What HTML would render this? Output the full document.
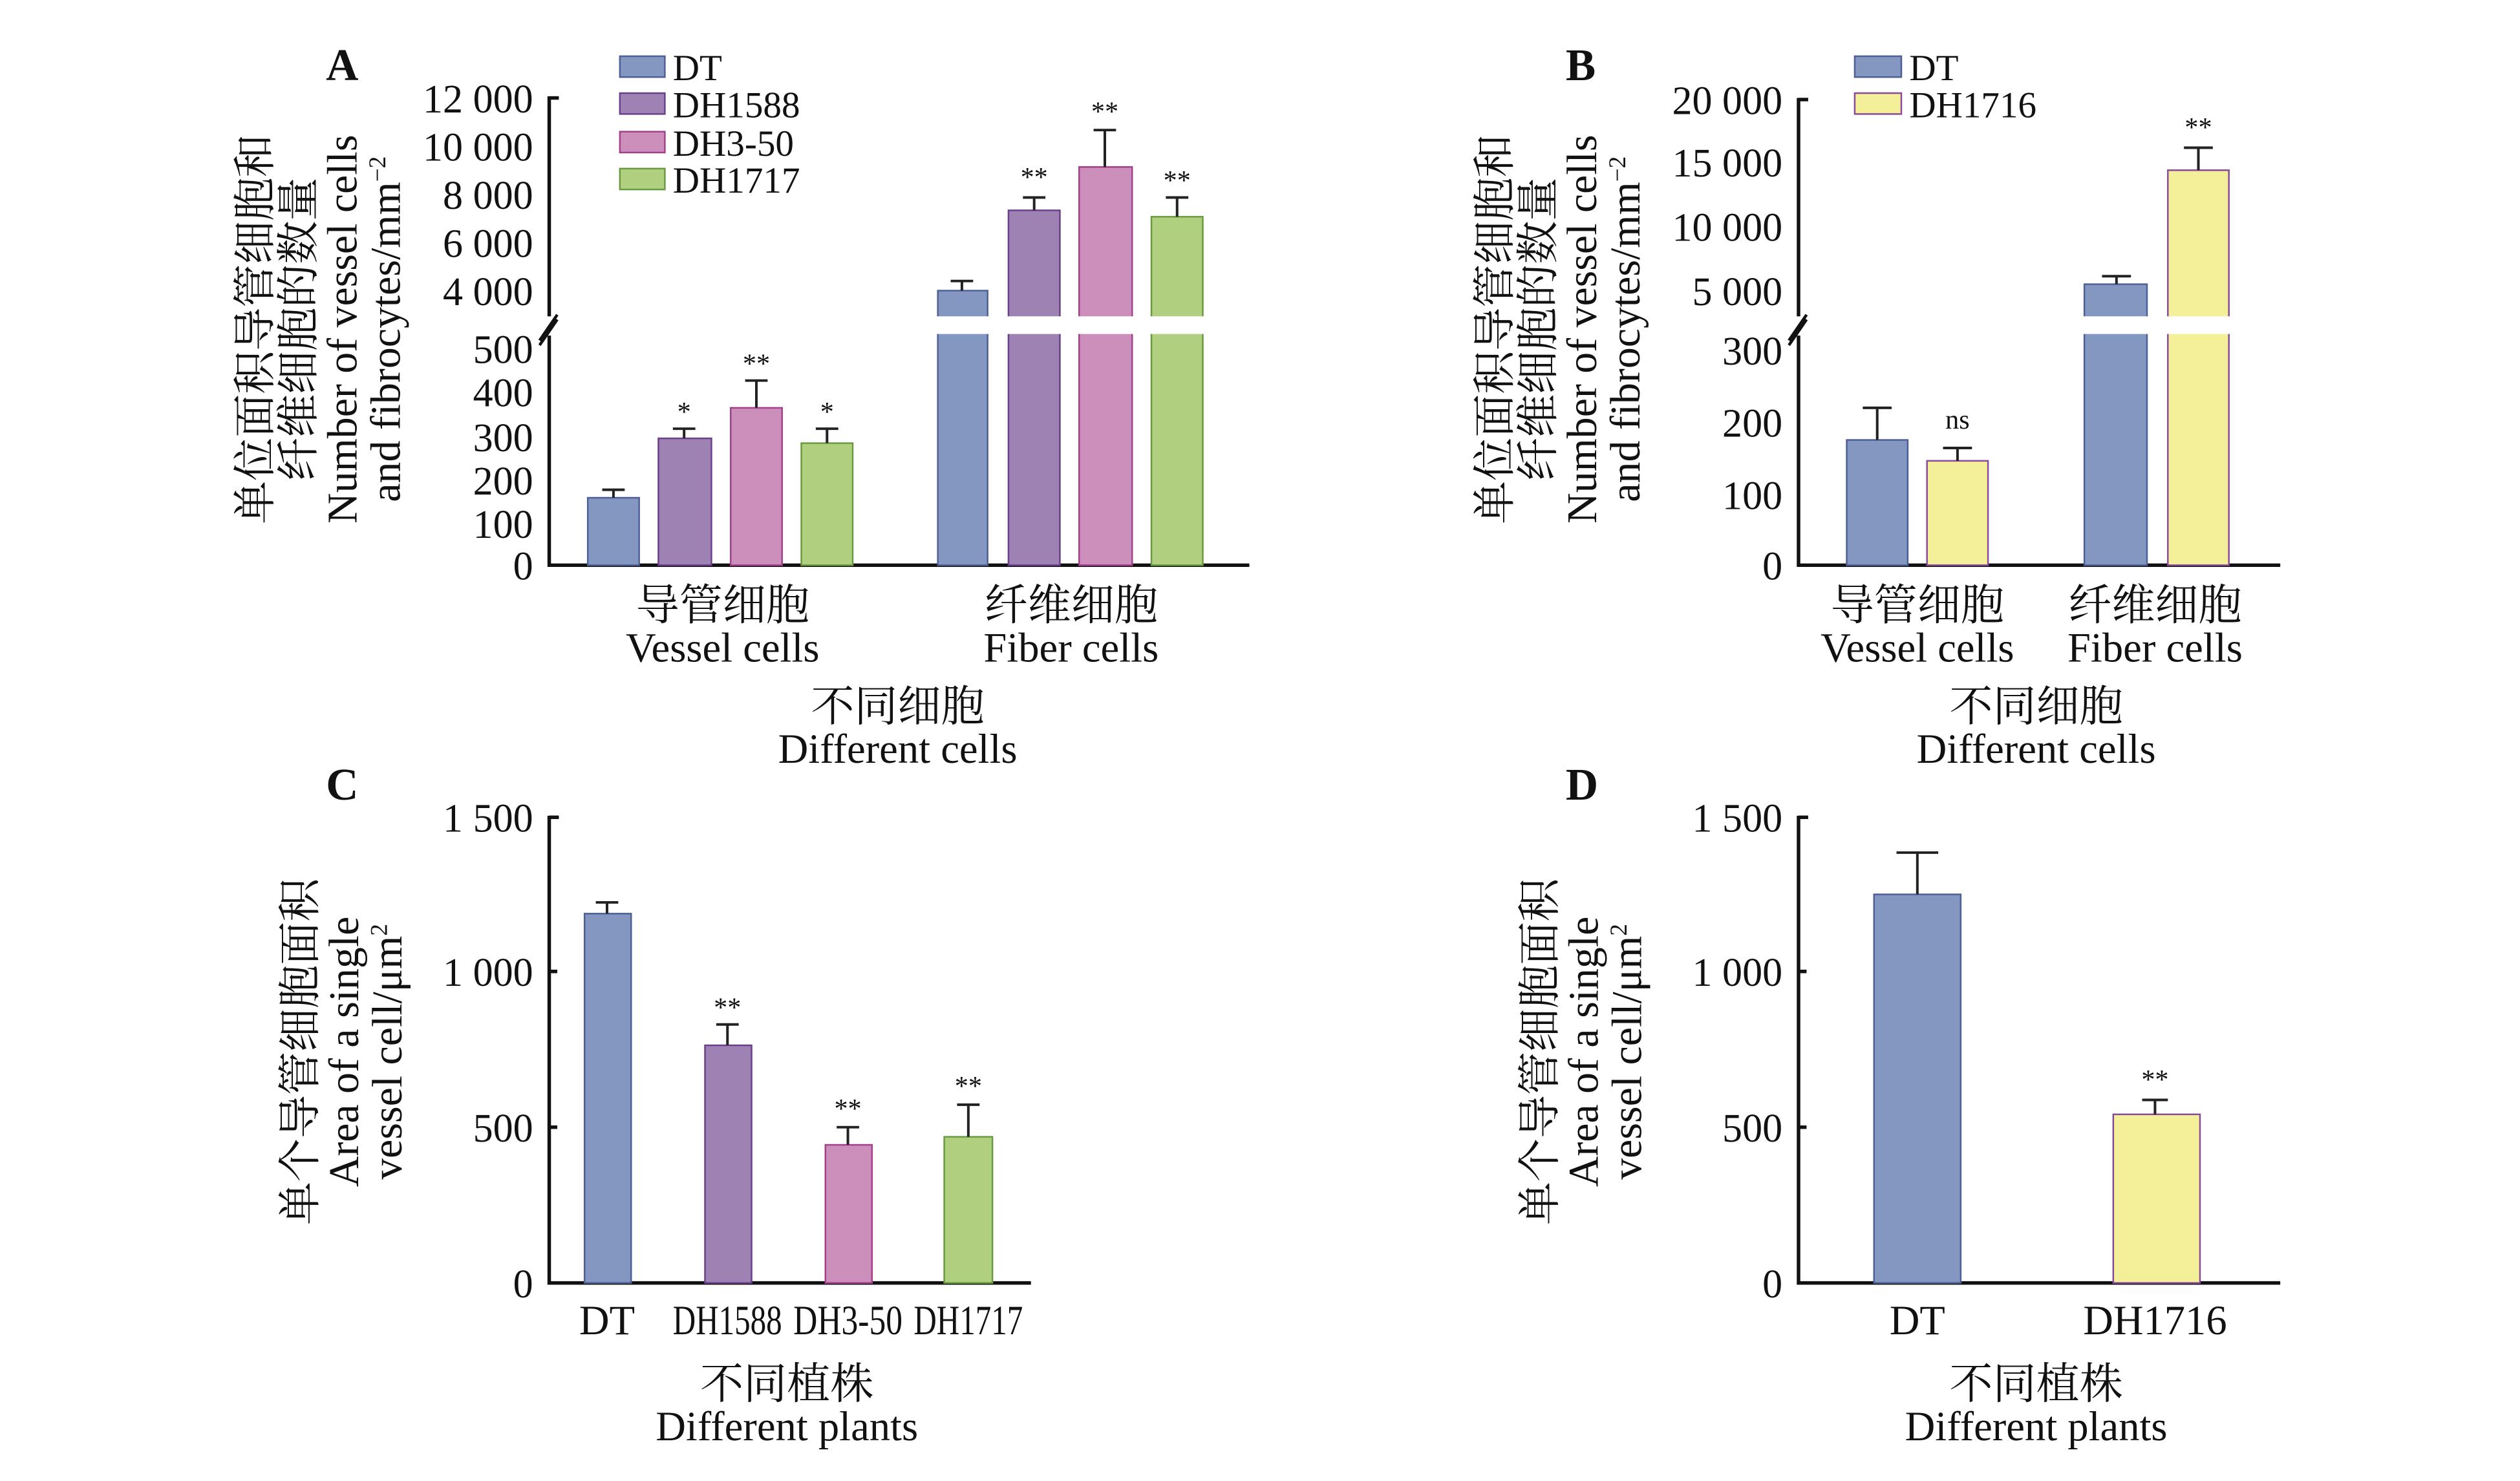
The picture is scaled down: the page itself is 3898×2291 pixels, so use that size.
<!DOCTYPE html>
<html><head><meta charset="utf-8"><style>html,body{margin:0;padding:0;background:#fff}svg{display:block}
text{font-family:"Liberation Serif","Noto Serif CJK SC","Noto Sans CJK SC",serif;fill:#111}
.t{font-size:26px}.k{font-size:25px}.s{font-size:17px}.cn{font-size:27px}.y{font-size:26.5px}
</style></head><body>
<svg width="3898" height="2291" viewBox="0 0 1552 912.2" xmlns="http://www.w3.org/2000/svg">
<rect width="1552" height="912.2" fill="#fff"/>
<g transform="scale(0.989)">
<!-- ===== Panel A ===== -->
<text x="203" y="50" style="font-size:28px;font-weight:bold">A</text>
<g transform="translate(0,205) rotate(-90)">
<text x="0" y="168" class="cn" text-anchor="middle">单位面积导管细胞和</text>
<text x="0" y="195" class="cn" text-anchor="middle">纤维细胞的数量</text>
<text x="0" y="222" class="y" text-anchor="middle">Number of vessel cells</text>
<text x="0" y="249" class="y" text-anchor="middle">and fibrocytes/mm<tspan dy="-9" style="font-size:15px">−2</tspan></text>
</g>
<g class="k" text-anchor="end">
<text x="332" y="70">12 000</text><text x="332" y="100">10 000</text><text x="332" y="130">8 000</text><text x="332" y="160">6 000</text><text x="332" y="190">4 000</text>
<text x="332" y="226">500</text><text x="332" y="253">400</text><text x="332" y="281">300</text><text x="332" y="308">200</text><text x="332" y="335">100</text><text x="332" y="361">0</text>
</g>
<g stroke="#111" stroke-width="2.2">
<line x1="342" y1="60" x2="342" y2="197"/><line x1="342" y1="209" x2="342" y2="353"/>
<line x1="341" y1="352" x2="778" y2="352"/>
<line x1="342" y1="61" x2="348" y2="61"/>
<line x1="336" y1="212" x2="347" y2="196" stroke-width="1.8"/><line x1="336" y1="215" x2="347" y2="199" stroke-width="1.8"/>
</g>
<rect x="366" y="310" width="32" height="42" fill="#8497c0" stroke="#4e5f95"/>
<rect x="410" y="273" width="33" height="79" fill="#9e82b4" stroke="#6a3f8c"/>
<rect x="455" y="254" width="32" height="98" fill="#cc8fbb" stroke="#a3408c"/>
<rect x="499" y="276" width="32" height="76" fill="#b0d080" stroke="#6a9a40"/>
<rect x="584" y="181" width="31" height="171" fill="#8497c0" stroke="#4e5f95"/>
<rect x="628" y="131" width="32" height="221" fill="#9e82b4" stroke="#6a3f8c"/>
<rect x="672" y="104" width="33" height="248" fill="#cc8fbb" stroke="#a3408c"/>
<rect x="717" y="135" width="32" height="217" fill="#b0d080" stroke="#6a9a40"/>
<rect x="575" y="197" width="190" height="11" fill="#fff"/>
<g stroke="#222" stroke-width="1.6" fill="none">
<path d="M382 310V305M375 305H389"/><path d="M426 273V267M419 267H433"/><path d="M471 254V237M464 237H478"/><path d="M515 276V267M508 267H522"/>
<path d="M599 181V175M592 175H606"/><path d="M644 131V123M637 123H651"/><path d="M688 104V81M681 81H695"/><path d="M733 135V123M726 123H740"/>
</g>
<g class="s" text-anchor="middle">
<text x="426" y="262">*</text><text x="471" y="232">**</text><text x="515" y="262">*</text>
<text x="644" y="116">**</text><text x="688" y="75">**</text><text x="733" y="118">**</text>
</g>
<rect x="386" y="35" width="28" height="13" fill="#8497c0" stroke="#4e5f95"/>
<rect x="386" y="58" width="28" height="13" fill="#9e82b4" stroke="#6a3f8c"/>
<rect x="386" y="82" width="28" height="13" fill="#cc8fbb" stroke="#a3408c"/>
<rect x="386" y="105" width="28" height="13" fill="#b0d080" stroke="#6a9a40"/>
<g style="font-size:23px"><text x="419" y="50">DT</text><text x="419" y="73">DH1588</text><text x="419" y="97">DH3-50</text><text x="419" y="120">DH1717</text></g>
<g text-anchor="middle">
<text x="450" y="386" class="cn">导管细胞</text><text x="450" y="412" class="t">Vessel cells</text>
<text x="667" y="386" class="cn">纤维细胞</text><text x="667" y="412" class="t">Fiber cells</text>
<text x="559" y="449" class="cn">不同细胞</text><text x="559" y="475" class="t">Different cells</text>
</g>
<!-- ===== Panel B ===== -->
<text x="975" y="50" style="font-size:28px;font-weight:bold">B</text>
<g transform="translate(0,205) rotate(-90)">
<text x="0" y="940" class="cn" text-anchor="middle">单位面积导管细胞和</text>
<text x="0" y="967" class="cn" text-anchor="middle">纤维细胞的数量</text>
<text x="0" y="994" class="y" text-anchor="middle">Number of vessel cells</text>
<text x="0" y="1021" class="y" text-anchor="middle">and fibrocytes/mm<tspan dy="-9" style="font-size:15px">−2</tspan></text>
</g>
<g class="k" text-anchor="end">
<text x="1110" y="71">20 000</text><text x="1110" y="110">15 000</text><text x="1110" y="150">10 000</text><text x="1110" y="190">5 000</text>
<text x="1110" y="227">300</text><text x="1110" y="272">200</text><text x="1110" y="317">100</text><text x="1110" y="361">0</text>
</g>
<g stroke="#111" stroke-width="2.2">
<line x1="1120" y1="61" x2="1120" y2="197"/><line x1="1120" y1="209" x2="1120" y2="353"/>
<line x1="1119" y1="352" x2="1420" y2="352"/>
<line x1="1120" y1="62" x2="1126" y2="62"/>
<line x1="1114" y1="212" x2="1125" y2="196" stroke-width="1.8"/><line x1="1114" y1="215" x2="1125" y2="199" stroke-width="1.8"/>
</g>
<rect x="1150" y="274" width="38" height="78" fill="#8497c0" stroke="#4e5f95"/>
<rect x="1200" y="287" width="38" height="65" fill="#f4f09a" stroke="#8a4a9a"/>
<rect x="1298" y="177" width="39" height="175" fill="#8497c0" stroke="#4e5f95"/>
<rect x="1350" y="106" width="38" height="246" fill="#f4f09a" stroke="#8a4a9a"/>
<rect x="1290" y="197" width="110" height="11" fill="#fff"/>
<g stroke="#222" stroke-width="1.6" fill="none">
<path d="M1169 274V254M1160 254H1178"/><path d="M1219 287V279M1210 279H1228"/>
<path d="M1318 177V172M1309 172H1327"/><path d="M1369 106V92M1360 92H1378"/>
</g>
<g class="s" text-anchor="middle"><text x="1219" y="267">ns</text><text x="1369" y="85">**</text></g>
<rect x="1155" y="35" width="29" height="13" fill="#8497c0" stroke="#4e5f95"/>
<rect x="1155" y="58" width="29" height="13" fill="#f4f09a" stroke="#8a4a9a"/>
<g style="font-size:23px"><text x="1189" y="50">DT</text><text x="1189" y="73">DH1716</text></g>
<g text-anchor="middle">
<text x="1194" y="386" class="cn">导管细胞</text><text x="1194" y="412" class="t">Vessel cells</text>
<text x="1342" y="386" class="cn">纤维细胞</text><text x="1342" y="412" class="t">Fiber cells</text>
<text x="1268" y="449" class="cn">不同细胞</text><text x="1268" y="475" class="t">Different cells</text>
</g>
<!-- ===== Panel C ===== -->
<text x="203" y="498" style="font-size:28px;font-weight:bold">C</text>
<g transform="translate(0,655) rotate(-90)">
<text x="0" y="196" class="cn" text-anchor="middle">单个导管细胞面积</text>
<text x="0" y="223" class="y" text-anchor="middle">Area of a single</text>
<text x="0" y="250" class="y" text-anchor="middle">vessel cell/μm<tspan dy="-9" style="font-size:15px">2</tspan></text>
</g>
<g class="k" text-anchor="end">
<text x="332" y="518">1 500</text><text x="332" y="614">1 000</text><text x="332" y="711">500</text><text x="332" y="808">0</text>
</g>
<g stroke="#111" stroke-width="2.2">
<line x1="342" y1="508" x2="342" y2="800"/><line x1="341" y1="799" x2="642" y2="799"/>
<line x1="342" y1="509" x2="348" y2="509"/><line x1="342" y1="605" x2="347" y2="605"/><line x1="342" y1="702" x2="347" y2="702"/>
</g>
<rect x="364" y="569" width="29" height="230" fill="#8497c0" stroke="#4e5f95"/>
<rect x="439" y="651" width="29" height="148" fill="#9e82b4" stroke="#6a3f8c"/>
<rect x="514" y="713" width="29" height="86" fill="#cc8fbb" stroke="#a3408c"/>
<rect x="588" y="708" width="30" height="91" fill="#b0d080" stroke="#6a9a40"/>
<g stroke="#222" stroke-width="1.6" fill="none">
<path d="M378 569V562M371 562H385"/><path d="M453 651V638M446 638H460"/><path d="M528 713V702M521 702H535"/><path d="M603 708V688M596 688H610"/>
</g>
<g class="s" text-anchor="middle"><text x="453" y="633">**</text><text x="528" y="696">**</text><text x="603" y="682">**</text></g>
<g class="t" text-anchor="middle">
<text x="378" y="831">DT</text><text x="453" y="831" textLength="68" lengthAdjust="spacingAndGlyphs">DH1588</text><text x="528" y="831" textLength="68" lengthAdjust="spacingAndGlyphs">DH3-50</text><text x="603" y="831" textLength="68" lengthAdjust="spacingAndGlyphs">DH1717</text>
</g>
<g text-anchor="middle"><text x="490" y="871" class="cn">不同植株</text><text x="490" y="897" class="t">Different plants</text></g>
<!-- ===== Panel D ===== -->
<text x="975" y="498" style="font-size:28px;font-weight:bold">D</text>
<g transform="translate(0,655) rotate(-90)">
<text x="0" y="968" class="cn" text-anchor="middle">单个导管细胞面积</text>
<text x="0" y="995" class="y" text-anchor="middle">Area of a single</text>
<text x="0" y="1022" class="y" text-anchor="middle">vessel cell/μm<tspan dy="-9" style="font-size:15px">2</tspan></text>
</g>
<g class="k" text-anchor="end">
<text x="1110" y="518">1 500</text><text x="1110" y="614">1 000</text><text x="1110" y="711">500</text><text x="1110" y="808">0</text>
</g>
<g stroke="#111" stroke-width="2.2">
<line x1="1120" y1="508" x2="1120" y2="800"/><line x1="1119" y1="799" x2="1420" y2="799"/>
<line x1="1120" y1="509" x2="1126" y2="509"/><line x1="1120" y1="605" x2="1125" y2="605"/><line x1="1120" y1="702" x2="1125" y2="702"/>
</g>
<rect x="1167" y="557" width="54" height="242" fill="#8497c0" stroke="#4e5f95"/>
<rect x="1316" y="694" width="54" height="105" fill="#f4f09a" stroke="#8a4a9a"/>
<g stroke="#222" stroke-width="1.6" fill="none">
<path d="M1194 557V531M1181 531H1207"/><path d="M1342 694V685M1334 685H1350"/>
</g>
<text x="1342" y="678" class="s" text-anchor="middle">**</text>
<g class="t" text-anchor="middle"><text x="1194" y="831">DT</text><text x="1342" y="831">DH1716</text></g>
<g text-anchor="middle"><text x="1268" y="871" class="cn">不同植株</text><text x="1268" y="897" class="t">Different plants</text></g>
</g>
</svg>
</body></html>
